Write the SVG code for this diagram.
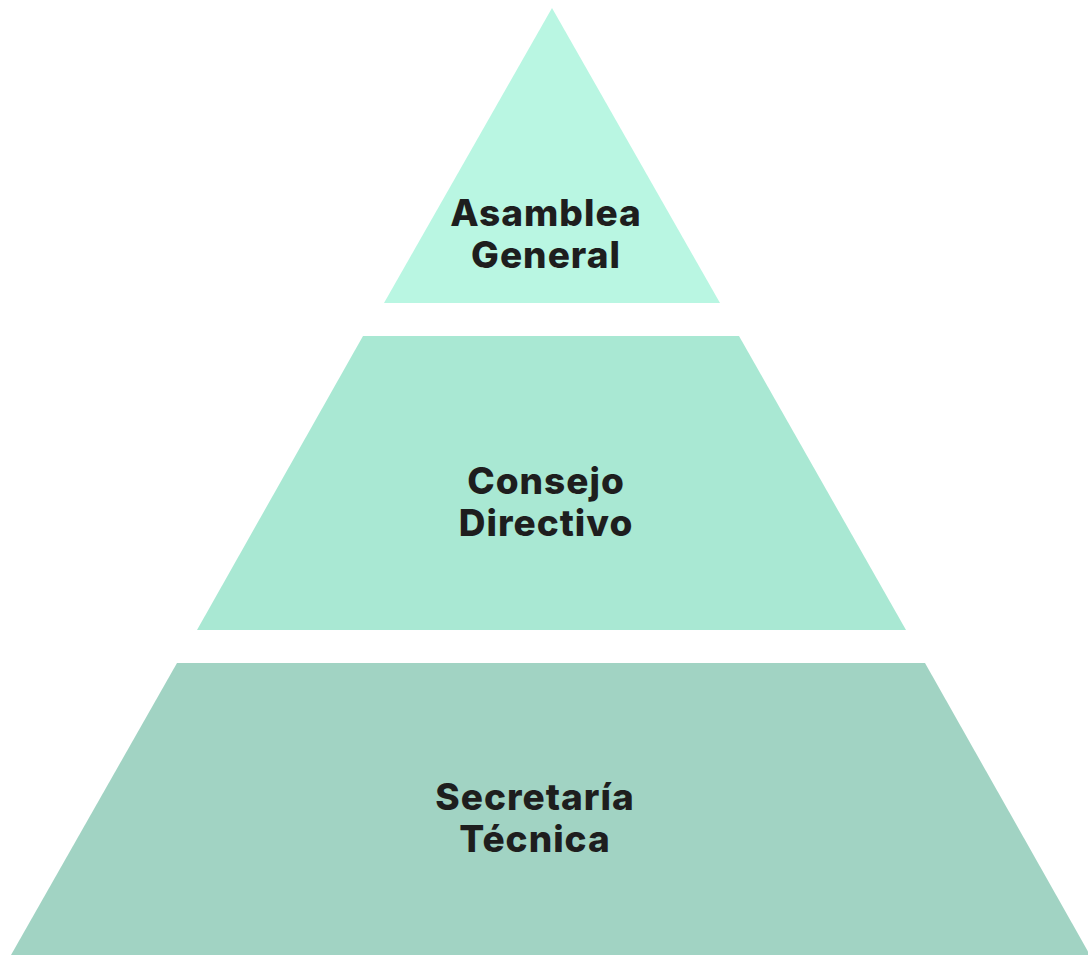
<svg xmlns="http://www.w3.org/2000/svg" width="1088" height="955" viewBox="0 0 1088 955">
<style>
.t{font-family:Inter,"Liberation Sans",sans-serif;font-weight:800;font-size:37px;letter-spacing:1px;fill:#1e1e1e;text-anchor:middle}
</style>
<rect width="1088" height="955" fill="#ffffff"/>
<g id="asamblea">
<polygon points="552,8 384,303 720,303" fill="#b9f6e2"/>
<text class="t" x="546" y="226">Asamblea</text>
<text class="t" x="546" y="268">General</text>
</g>
<g id="consejo">
<polygon points="363,336 739,336 906,630 197,630" fill="#a9e8d3"/>
<text class="t" x="546" y="494">Consejo</text>
<text class="t" x="546" y="536">Directivo</text>
</g>
<g id="secretaria">
<polygon points="177,663 925,663 1090,955 11,955" fill="#a1d3c3"/>
<text class="t" x="535" y="810">Secretaría</text>
<text class="t" x="535" y="852">Técnica</text>
</g>
<g id="connectors"/>
</svg>
